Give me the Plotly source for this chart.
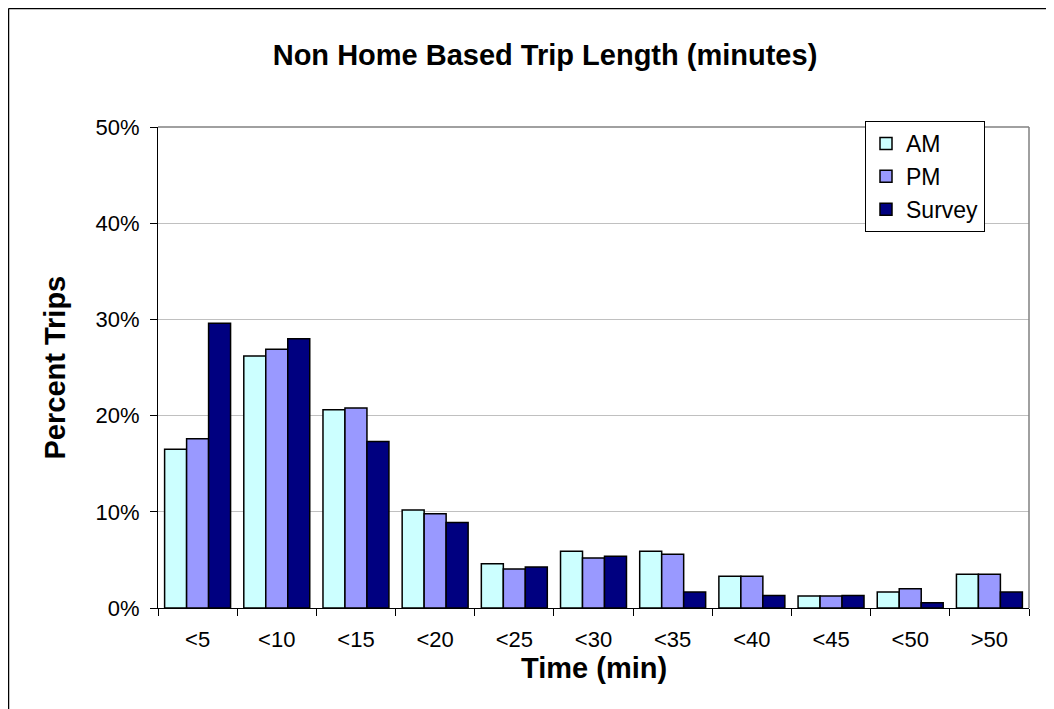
import plotly.graph_objects as go

categories = ["<5", "<10", "<15", "<20", "<25", "<30", "<35", "<40", "<45", "<50", ">50"]
am = [0.165, 0.262, 0.206, 0.102, 0.046, 0.059, 0.059, 0.033, 0.0125, 0.0166, 0.035]
pm = [0.176, 0.269, 0.208, 0.098, 0.0405, 0.052, 0.056, 0.033, 0.0125, 0.020, 0.035]
survey = [0.296, 0.280, 0.173, 0.089, 0.0426, 0.0537, 0.0166, 0.0129, 0.013, 0.0055, 0.0166]
series_names = ["AM", "PM", "Survey"]
series_colors = ["#CCFFFF", "#9999FF", "#000080"]

FONT = "Liberation Sans, Arial, sans-serif"

fig = go.Figure()
for name, vals, col in zip(series_names, [am, pm, survey], series_colors):
    fig.add_trace(go.Bar(
        x=categories, y=vals, name=name,
        marker=dict(color=col, line=dict(color="black", width=1.5)),
    ))

# page body has an 8px margin: figure origin sits at (8, 8) of the window
OFF = 8
W, H = 1054 - OFF, 709 - OFF
# reference pixel geometry of the plot area
RL, RR, RT, RB = 158, 1029, 127, 608
L, T = RL - OFF, RT - OFF
R = W - (RR - OFF)
B = H - (RB - OFF)
pw, ph = W - L - R, H - T - B

def px_x(p):
    return (p - RL) / pw

def px_y(p):
    return (RB - p) / ph

fig.update_layout(
    width=W, height=H,
    margin=dict(l=L, r=R, t=T, b=B, autoexpand=False),
    paper_bgcolor="white", plot_bgcolor="white",
    barmode="group", bargap=0.167, bargroupgap=0,
    font=dict(family=FONT, color="black", size=22),
    title=dict(
        text="Non Home Based Trip Length (minutes)",
        font=dict(family=FONT, size=29, weight="bold", color="black"),
        x=px_x(545), xref="paper", xanchor="center",
        y=1 - (55 - OFF) / H, yref="container", yanchor="middle",
    ),
    xaxis=dict(
        showline=True, linecolor="black", linewidth=1,
        ticks="outside", tickson="boundaries", ticklen=7, tickcolor="black",
        tickfont=dict(family=FONT, size=22, color="black"),
        ticklabelstandoff=12,
        showgrid=False,
    ),
    yaxis=dict(
        range=[0, 0.5], dtick=0.1, tickformat=".0%",
        showline=True, linecolor="black", linewidth=1,
        ticks="outside", ticklen=7, tickcolor="black",
        tickfont=dict(family=FONT, size=22, color="black"),
        ticklabelstandoff=6,
        showgrid=True, gridcolor="#C0C0C0", gridwidth=1,
        zeroline=False,
    ),
    legend=dict(
        x=px_x(865), y=px_y(121), xanchor="left", yanchor="top",
        bgcolor="white", bordercolor="black", borderwidth=1,
        font=dict(family=FONT, size=23, color="black"),
        itemwidth=30, tracegroupgap=0,
    ),
    showlegend=True,
)

fig.add_annotation(
    text="Percent Trips", textangle=-90, showarrow=False,
    xref="paper", yref="paper", x=px_x(54), y=0.5,
    xanchor="center", yanchor="middle",
    font=dict(family=FONT, size=29, weight="bold", color="black"),
)
fig.add_annotation(
    text="Time (min)", showarrow=False,
    xref="paper", yref="paper", x=0.5, y=px_y(668),
    xanchor="center", yanchor="middle",
    font=dict(family=FONT, size=29, weight="bold", color="black"),
)

# plot area border (top and right, gray)
fig.add_shape(type="line", xref="paper", yref="paper", x0=0, x1=1, y0=1, y1=1,
              line=dict(color="#808080", width=1.5))
fig.add_shape(type="line", xref="paper", yref="paper", x0=1, x1=1, y0=0, y1=1,
              line=dict(color="#808080", width=1.5))
# outer chart frame (left and top edges visible in the window)
fig.add_shape(type="line", xref="paper", yref="paper",
              x0=px_x(8.5), x1=px_x(8.5), y0=px_y(720), y1=px_y(8.5),
              line=dict(color="black", width=1.5))
fig.add_shape(type="line", xref="paper", yref="paper",
              x0=px_x(8.5), x1=px_x(1060), y0=px_y(8.5), y1=px_y(8.5),
              line=dict(color="black", width=1.5))

fig.write_html("out.html")
